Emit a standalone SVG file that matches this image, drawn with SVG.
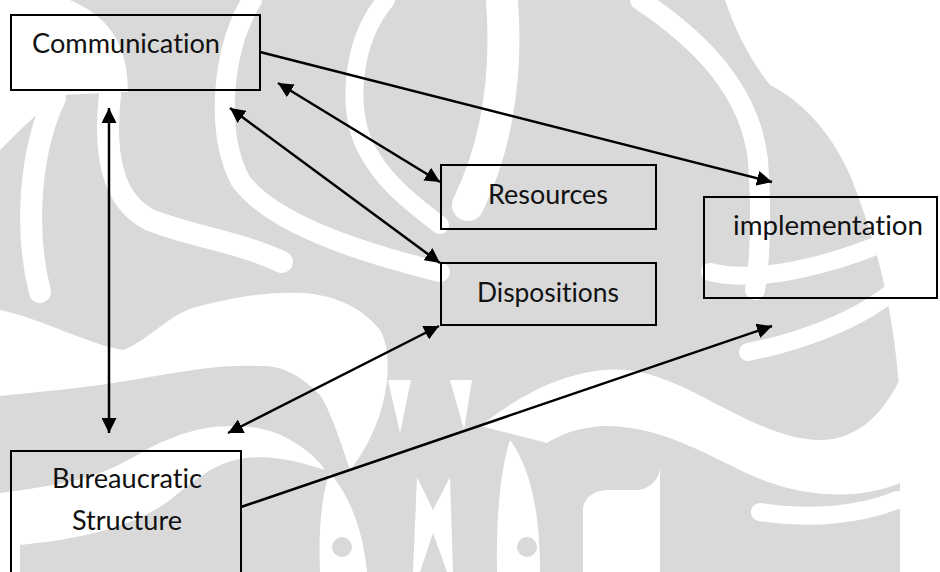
<svg xmlns="http://www.w3.org/2000/svg" width="940" height="572" viewBox="0 0 940 572">
  <style>
    .box { fill: none; stroke: #000000; stroke-width: 2; }
    .lbl { font-family: Lato, "Open Sans", "Liberation Sans", sans-serif; font-size: 26px; fill: #111111; font-variant-ligatures: none; }
    .con { stroke: #000000; stroke-width: 2.5; fill: none; }
    .wm { fill: #d9d9d9; }
    .gap { fill: #ffffff; }
    .band { fill: none; stroke: #ffffff; stroke-linecap: round; }
  </style>
  <defs>
    <marker id="head" viewBox="0 0 15 15" refX="15" refY="7.5" markerWidth="15" markerHeight="15" markerUnits="userSpaceOnUse" orient="auto-start-reverse">
      <path d="M0,0 L15,7.5 L0,15 Z" fill="#000000"/>
    </marker>
  </defs>
  <rect width="940" height="572" fill="#ffffff"/>

  <!-- background emblem: grey field cut by white bands -->
  <g id="emblem">
    <rect class="wm" x="0" y="0" width="900" height="572"/>
    <!-- open corners -->
    <path class="gap" d="M0,0 H70 C105,15 128,40 128,92 L60,95 C40,110 20,130 0,150 Z"/>
    <path class="gap" d="M725,0 H940 V572 H900 V400 C895,320 880,250 850,175 C830,130 800,100 770,85 C750,60 735,30 725,0 Z"/>
    <!-- upper left sweeps -->
    <path class="band" stroke-width="22" d="M55,98 C30,150 24,230 40,292"/>
    <path class="band" stroke-width="22" d="M110,94 C104,150 110,200 150,220 C190,236 240,242 282,262"/>
    <path class="band" stroke-width="20" d="M252,0 C222,50 215,130 240,180 C265,215 330,245 440,272"/>
    <path class="band" stroke-width="18" d="M386,0 C352,40 345,110 367,150 C380,175 400,195 440,225"/>
    <!-- central spindle, right side -->
    <path class="band" stroke-width="32" d="M502,0 C508,80 495,150 468,205"/>
    <!-- upper right sweeps -->
    <path class="band" stroke-width="20" d="M640,0 C700,40 750,90 758,160 C762,220 760,260 755,290"/>
    <path class="band" stroke-width="18" d="M710,272 C760,285 840,262 890,240"/>
    <!-- lower left waves -->
    <path class="gap" d="M0,310 C40,318 90,345 123,350 C150,340 170,312 200,306 C240,296 270,292 300,293 C330,294 360,305 380,330 C395,355 390,420 350,470 C340,440 330,410 320,395 C300,375 285,368 267,366 C240,365 220,366 200,369 C160,375 120,382 100,385 C60,390 30,393 0,396 Z"/>
    <path class="gap" d="M0,493 C40,488 75,482 100,473 C130,462 145,448 167,440 C190,430 210,426 233,426 C255,426 270,430 283,436 C300,445 315,455 325,470 C300,462 275,455 245,458 C215,462 195,480 170,500 C130,530 70,540 20,545 L0,545 Z"/>
    <path class="gap" d="M0,545 H20 V572 H0 Z"/>
    <!-- lower right waves -->
    <path class="gap" d="M480,426 C520,395 580,360 640,372 C700,385 760,440 820,440 C860,440 885,410 900,379 L900,483 C860,500 800,500 740,470 C690,445 650,425 603,426 C575,428 560,435 547,443 Z"/>
    <path class="band" stroke-width="18" d="M748,352 C800,342 860,320 897,288"/>
    <path class="band" stroke-width="18" d="M760,512 C810,520 860,515 897,500"/>
    <!-- tongues pointing down over the foot -->
    <path class="gap" d="M388,380 L411,380 L400,433 Z"/>
    <path class="gap" d="M450,380 L472,380 L464,430 Z"/>
    <!-- foot: petals with dots, central letter, hook -->
    <path class="gap" d="M320,572 C318,530 322,492 330,473 C346,492 362,522 367,572 Z"/>
    <circle class="wm" cx="342" cy="547" r="10"/>
    <path class="gap" d="M413,572 L417,477 L433,510 L450,477 L453,572 L447,572 L433,533 L420,572 Z"/>
    <path class="gap" d="M497,572 C496,520 500,470 510,440 C526,462 540,500 540,572 Z"/>
    <circle class="wm" cx="527" cy="547" r="10"/>
    <path class="gap" d="M583,572 L583,508 C585,496 595,490 610,490 L638,490 C652,488 660,478 660,466 L660,572 Z"/>
  </g>

  <g id="communication">
    <rect class="box" x="11" y="15" width="249" height="75"/>
    <text class="lbl" x="32" y="53" textLength="188" lengthAdjust="spacingAndGlyphs">Communication</text>
  </g>
  <g id="resources">
    <rect class="box" x="441" y="165" width="215" height="64"/>
    <text class="lbl" x="488" y="204" textLength="120" lengthAdjust="spacingAndGlyphs">Resources</text>
  </g>
  <g id="dispositions">
    <rect class="box" x="441" y="263" width="215" height="62"/>
    <text class="lbl" x="477" y="302" textLength="142" lengthAdjust="spacingAndGlyphs">Dispositions</text>
  </g>
  <g id="implementation">
    <rect class="box" x="704" y="197" width="233" height="101"/>
    <text class="lbl" x="733" y="235" textLength="190" lengthAdjust="spacingAndGlyphs">implementation</text>
  </g>
  <g id="bureaucratic-structure">
    <rect class="box" x="11" y="451" width="230" height="130"/>
    <text class="lbl" x="52" y="488" textLength="150" lengthAdjust="spacingAndGlyphs">Bureaucratic</text>
    <text class="lbl" x="72" y="530" textLength="110" lengthAdjust="spacingAndGlyphs">Structure</text>
  </g>

  <g id="connectors">
    <line class="con" x1="109" y1="108" x2="109" y2="433" marker-start="url(#head)" marker-end="url(#head)"/>
    <line class="con" x1="260" y1="52" x2="772" y2="182" marker-end="url(#head)"/>
    <line class="con" x1="278" y1="83" x2="440" y2="182" marker-start="url(#head)" marker-end="url(#head)"/>
    <line class="con" x1="230" y1="108" x2="440" y2="263" marker-start="url(#head)" marker-end="url(#head)"/>
    <line class="con" x1="228" y1="433" x2="439" y2="326" marker-start="url(#head)" marker-end="url(#head)"/>
    <line class="con" x1="241" y1="507" x2="772" y2="326" marker-end="url(#head)"/>
  </g>
</svg>
